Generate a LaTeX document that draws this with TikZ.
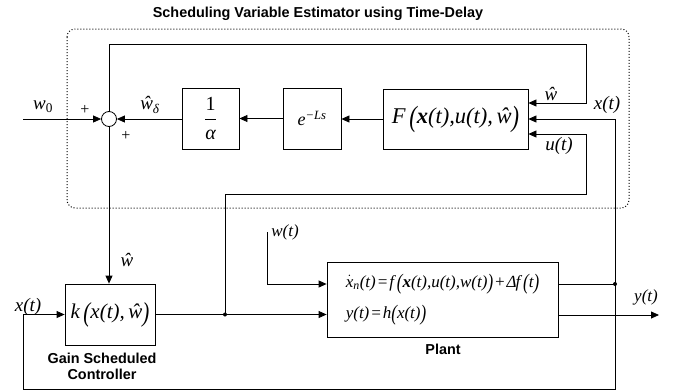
\documentclass[tikz,border=0pt]{standalone}
\usepackage{amsmath}
\usepackage{graphicx}
\usepackage{fontspec}
\setmainfont{Liberation Serif}
\setsansfont{Liberation Sans}
\usetikzlibrary{arrows.meta}
\newcommand\mylp{\raisebox{-0.13em}{\scalebox{1}[1.3]{(}}}
\newcommand\myrp{\raisebox{-0.13em}{\scalebox{1}[1.3]{)}}}
\newcommand\myti[1]{\text{\itshape #1}}
\begin{document}
\begin{tikzpicture}[x=1pt,y=-1pt,
  line width=0.8pt,
  blk/.style={draw, line width=0.8pt, inner sep=0pt},
  arr/.style={-{Triangle[length=8pt,width=7pt]}},
  lab/.style={inner sep=0pt, font=\fontsize{19}{21}\selectfont\itshape},
  slab/.style={inner sep=0pt, font=\fontsize{17}{19}\selectfont\itshape},
  plus/.style={inner sep=0pt, font=\fontsize{16}{18}\selectfont},
  ttl/.style={inner sep=0pt, align=center, font=\fontsize{14.4}{17}\selectfont\sffamily\bfseries},
  jdot/.style={circle, fill, inner sep=0pt, minimum size=4pt}
]
\useasboundingbox (0,0) rectangle (684,391);
\node[ttl] (title) at (318,14) {Scheduling Variable Estimator using Time-Delay};
\draw[dotted, line width=1pt, rounded corners=8pt] (67,29) rectangle (629,208);

% blocks
\node[draw, circle, minimum size=15pt, inner sep=0pt] (sum) at (109,119) {};
\node[blk, minimum width=57pt, minimum height=61pt] (alpha) at (210.5,118.5)
  {\fontsize{20}{22}\selectfont$\dfrac{\text{1}}{\myti{α}}$};
\node[blk, minimum width=58pt, minimum height=61pt] (delay) at (312,118.5)
  {\fontsize{18}{20}\selectfont\itshape e\textsuperscript{−Ls}};
\node[blk, minimum width=145pt, minimum height=60pt] (F) at (455.5,119)
  {\fontsize{22.5}{24}\selectfont\itshape F\,\mylp\textbf{x}(t),u(t),\,ŵ\myrp};
\node[blk, minimum width=90pt, minimum height=61pt] (k) at (110,314.5)
  {\fontsize{21}{23}\selectfont\itshape k\,\mylp x(t),\,ŵ\myrp};
\node[blk, minimum width=231pt, minimum height=75pt, align=left,
      font=\fontsize{17}{31}\selectfont\itshape] (plant) at (442.5,299.5)
  {$\dot{\myti{x}}_{\myti{n}}$(t)\kern1pt=\kern1pt f\,\mylp\textbf{x}(t),u(t),w(t)\myrp\kern1pt+\kern1pt Δ\kern-1pt f\,\mylp t\myrp\\
   y(t)\kern1pt=\kern1pt h\mylp x(t)\myrp};

% captions
\node[ttl] (kcap) at (102,366) {Gain Scheduled\\[-1pt]Controller};
\node[ttl] (pcap) at (443,349) {Plant};

% coordinates
\coordinate (w0s) at (23,119);
\coordinate (tl) at (109,44);
\coordinate (tr) at (586,44);
\coordinate (hatin) at (586,103);
\coordinate (xr) at (615,119);
\coordinate (xb) at (615,389);
\coordinate (xl) at (23,389);
\coordinate (xk) at (23,314.5);
\coordinate (ut1) at (225,194);
\coordinate (ut2) at (586,194);
\coordinate (ut3) at (586,134);
\coordinate (wt) at (267,232);
\coordinate (wt2) at (267,284);
\coordinate (yend) at (659,315);
\node[jdot] (j1) at (225,314.5) {};
\node[jdot] (j2) at (615,284) {};

% connectors
\draw[arr] (w0s) -- (sum.west);
\draw[arr] (alpha.west |- sum.east) -- (sum.east);
\draw[arr] (delay.west) -- (alpha.east);
\draw[arr] (F.west) -- (F.west -| delay.east);
\draw[arr] (sum.north) -- (tl) -- (tr) -- (hatin) -- (hatin -| F.east);
\draw[arr] (sum.south) -- (sum.south |- k.north);
\draw[arr] (xr) -- (xr -| F.east);
\draw[arr] (xr) -- (xb) -- (xl) -- (xk) -- (k.west);
\draw[arr] (k.east) -- (k.east -| plant.west);
\draw[arr] (j1.center) -- (ut1) -- (ut2) -- (ut3) -- (ut3 -| F.east);
\draw[arr] (wt) -- (wt2) -- (wt2 -| plant.west);
\draw (plant.east |- j2) -- (j2.center);
\draw[arr] (plant.east |- yend) -- (yend);

% labels
\node[lab] (lw0) at (43,107) {w\textsubscript{\upshape 0}};
\node[plus] (lp1) at (85,110) {+};
\node[plus] (lp2) at (126,136) {+};
\node[lab] (lwd) at (150,105) {ŵ\textsubscript{δ}};
\node[lab] (lwh) at (551,94) {ŵ};
\node[lab] (lxt) at (607,105) {x(t)};
\node[lab] (lut) at (559,146) {u(t)};
\node[lab] (lwk) at (127,260) {ŵ};
\node[lab] (lxk) at (28,307) {x(t)};
\node[slab] (lwt) at (285,232) {w(t)};
\node[slab] (lyt) at (646,297) {y(t)};
\end{tikzpicture}
\end{document}
